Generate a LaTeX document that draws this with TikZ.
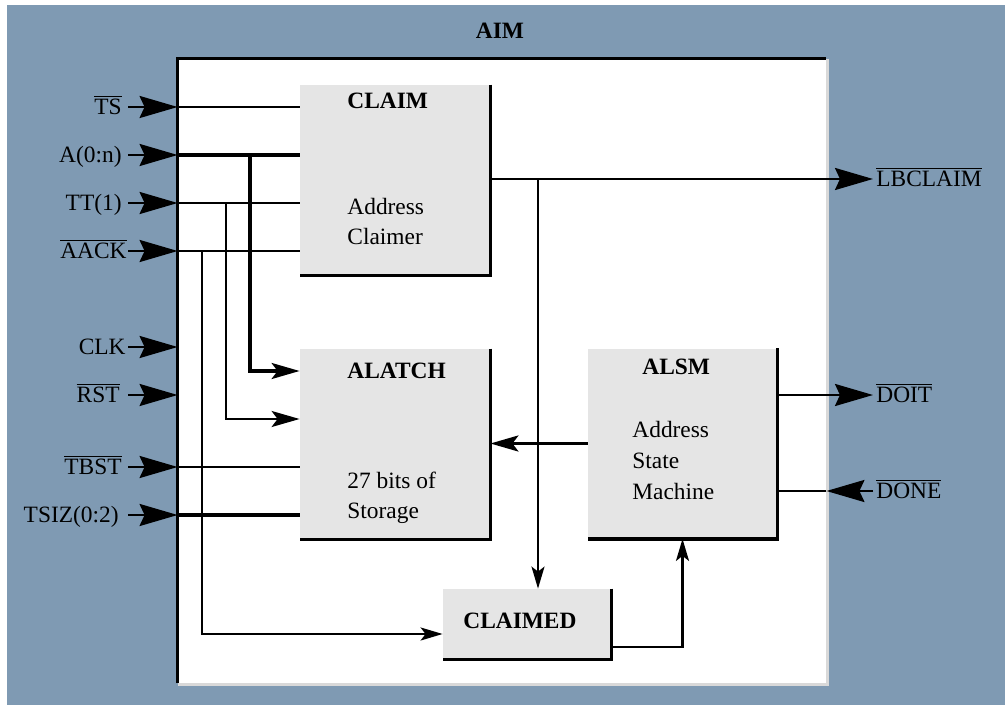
\documentclass[tikz,border=0pt]{standalone}
\usepackage{fontspec}
\setmainfont{Liberation Serif}
\usetikzlibrary{arrows.meta}
\definecolor{aimblue}{HTML}{7F9AB3}
\definecolor{boxgray}{HTML}{E5E5E5}
\definecolor{rimgray}{HTML}{D9D9D9}

\begin{document}
\begin{tikzpicture}[x=0.5pt,y=-0.5pt,
  every node/.style={font=\fontsize{11.7pt}{15pt}\selectfont},
  block/.style={fill=boxgray,inner sep=0pt,minimum width=95pt,minimum height=95pt},
  rim/.style={line width=1.8pt},
  blocktitle/.style={font=\fontsize{11.7pt}{15pt}\selectfont\bfseries,inner sep=0pt,anchor=west,text height=7.75pt,text depth=0pt},
  body/.style={align=left,anchor=north west,inner sep=0pt},
  sig/.style={inner sep=1.5pt,text height=7.75pt,text depth=0pt},
  wire/.style={line width=1.1pt},
  bus/.style={line width=1.6pt},
  ext/.style={line width=1.3pt,-{Stealth[length=19pt,width=11pt,inset=2.5pt]}},
  arr/.style={wire,-{Stealth[length=11pt,width=6.5pt,inset=2.5pt]}},
  marr/.style={wire,-{Stealth[length=14pt,width=8pt,inset=3pt]}},
  barr/.style={bus,-{Stealth[length=14pt,width=8pt,inset=3pt]}}]

  \useasboundingbox (0,0) rectangle (1005,705);
  \fill[aimblue] (7,5) rectangle (1005,705);

  % the AIM frame
  \node[fill=white,inner sep=0pt,minimum width=324pt,minimum height=312pt] (aim) at (502,371) {};
  \draw[rimgray,line width=1.5pt] ([xshift=.75pt]aim.north east) -- ([xshift=.75pt,yshift=-.75pt]aim.south east) -- ([yshift=-.75pt]aim.south west);
  \draw[line width=1.6pt] (aim.south west) -- (aim.north west) -- (aim.north east);
  \node[blocktitle,anchor=center] (aimT) at (500,31) {AIM};

  % blocks
  \node[block] (claim) at (395,180) {};
  \node[block] (alatch) at (395,444) {};
  \node[block,minimum width=94.5pt] (alsm) at (682.5,443.5) {};
  \node[block,minimum width=84pt,minimum height=35pt] (claimed) at (527,624) {};
  \draw[rim] (claim.north east) -- (claim.south east) -- (claim.south west);
  \draw[rim] (alatch.north east) -- (alatch.south east) -- (alatch.south west);
  \draw[rim] (alsm.north east) -- (alsm.south east) -- (alsm.south west);
  \draw[rim] (claimed.north east) -- (claimed.south east) -- (claimed.south west);

  \node[blocktitle] (claimT) at (347,101) {CLAIM};
  \node[body] (claimB) at (347,198) {Address\\Claimer};
  \node[blocktitle] (alatchT) at (347,371) {ALATCH};
  \node[body] (alatchB) at (347,472) {27 bits of\\Storage};
  \node[blocktitle] (alsmT) at (642,367) {ALSM};
  \node[body,font=\fontsize{11.7pt}{15.5pt}\selectfont] (alsmB) at (632,421) {Address\\State\\Machine};
  \node[blocktitle] (claimedT) at (463,621) {CLAIMED};

  % pins on the left
  \node[sig,anchor=east] (ts) at (125,107) {$\overline{\mbox{TS}}$};
  \node[sig,anchor=east] (a) at (125,155) {A(0:n)};
  \node[sig,anchor=east] (tt) at (125,203) {TT(1)};
  \node[sig,anchor=east] (aack) at (130,251) {$\overline{\mbox{AACK}}$};
  \node[sig,anchor=east] (clk) at (129,347) {CLK};
  \node[sig,anchor=east] (rst) at (123,395) {$\overline{\mbox{RST}}$};
  \node[sig,anchor=east] (tbst) at (125,467) {$\overline{\mbox{TBST}}$};
  \node[sig,anchor=east] (tsiz) at (122,515) {TSIZ(0:2)};
  \coordinate (stem) at (128,0);
  \draw[ext] (stem |- ts.east) -- (ts.east -| aim.west);
  \draw[ext] (stem |- a.east) -- (a.east -| aim.west);
  \draw[ext] (stem |- tt.east) -- (tt.east -| aim.west);
  \draw[ext] (stem |- aack.east) -- (aack.east -| aim.west);
  \draw[ext] (stem |- clk.east) -- (clk.east -| aim.west);
  \draw[ext] (stem |- rst.east) -- (rst.east -| aim.west);
  \draw[ext] (stem |- tbst.east) -- (tbst.east -| aim.west);
  \draw[ext] (stem |- tsiz.east) -- (tsiz.east -| aim.west);

  % pins on the right
  \node[sig,anchor=west] (lbclaim) at (873,179) {$\overline{\mbox{LBCLAIM}}$};
  \node[sig,anchor=west] (doit) at (873,395) {$\overline{\mbox{DOIT}}$};
  \node[sig,anchor=west] (done) at (873,491) {$\overline{\mbox{DONE}}$};
  \draw[ext] (lbclaim.west -| aim.east) -- (lbclaim.west);
  \draw[ext] (doit.west -| aim.east) -- (doit.west);
  \draw[ext] (done.west) -- (done.west -| aim.east);

  % inner wiring
  \draw[wire] (ts.east -| aim.west) -- (ts.east -| claim.west);
  \draw[bus] (a.east -| aim.west) -- (a.east -| claim.west);
  \draw[wire] (tt.east -| aim.west) -- (tt.east -| claim.west);
  \draw[wire] (aack.east -| aim.west) -- (aack.east -| claim.west);
  \draw[wire] (tbst.east -| aim.west) -- (tbst.east -| alatch.west);
  \draw[bus] (tsiz.east -| aim.west) -- (tsiz.east -| alatch.west);

  \coordinate (jA) at (250,155);
  \coordinate (jT) at (226,203);
  \coordinate (jK) at (202,251);
  \coordinate (jL) at (538,179);
  \draw[barr] (jA) |- ([yshift=36.5pt]alatch.west);
  \draw[marr] (jT) |- ([yshift=12.5pt]alatch.west);
  \draw[arr] (jK) |- ([yshift=-5pt]claimed.west);

  \draw[wire] (lbclaim.west -| claim.east) -- (lbclaim.west -| aim.east);
  \draw[arr] (jL) -- (jL |- claimed.north);
  \draw[barr] (alsm.west) -- (alsm.west -| alatch.east);
  \draw[wire] (doit.west -| alsm.east) -- (doit.west -| aim.east);
  \draw[wire] (done.west -| aim.east) -- (done.west -| alsm.east);
  \draw[arr] ([yshift=-11.5pt]claimed.east) -| (alsm.south);
\end{tikzpicture}
\end{document}
